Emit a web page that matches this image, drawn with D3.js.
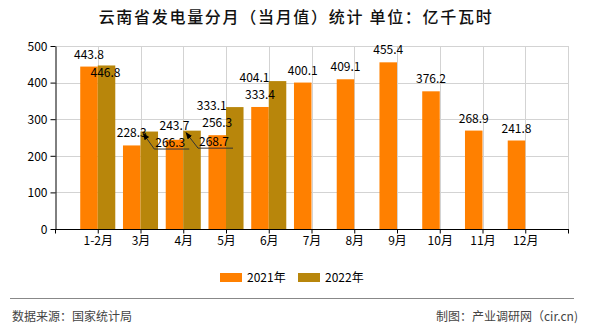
<!DOCTYPE html>
<html>
<head>
<meta charset="utf-8">
<script src="https://cdn.jsdelivr.net/npm/d3@7"></script>
<style>
  html, body { margin: 0; padding: 0; background: #fff; }
  svg { display: block; }
  text { font-family: "Noto Sans CJK SC", "Noto Sans", sans-serif; }
</style>
</head>
<body>
<svg id="chart" width="590" height="330"></svg>
<script>
// ---- data ----
const categories = ["1-2月", "3月", "4月", "5月", "6月", "7月", "8月", "9月", "10月", "11月", "12月"];
const values2021 = [443.8, 228.3, 243.7, 256.3, 333.4, 400.1, 409.1, 455.4, 376.2, 268.9, 241.8];
const values2022 = [446.8, 266.3, 268.7, 333.1, 404.1, null, null, null, null, null, null];
const seriesNames = ["2021年", "2022年"];
const yTickValues = [0, 100, 200, 300, 400, 500];
const titleText = "云南省发电量分月（当月值）统计 单位：亿千瓦时";
const sourceText = "数据来源：国家统计局";
const creditText = "制图：产业调研网（cir.cn)";

// ---- layout / style ----
const colors = ["#FF8000", "#B8860B"];
const plot = { left: 55, right: 568, top: 46, bottom: 229 };
// label placement tweaks (overlap avoidance, as in the reference)
const shift2021 = [[0, 0], [0, 0], [0, -2], [0, 0], [0, 0], [0, 0], [0, 0], [0, 0], [0, 0], [0, 0], [0, 0]];
const shift2022 = [[-1, 20], [21, 23], [22, 23], [-23, 11], [-23, 9]];
const leader2022 = [false, true, true, false, false];

const svg = d3.select("#chart");

const x = d3.scalePoint().domain(categories).range([plot.left, plot.right]).padding(1);
const y = d3.scaleLinear().domain([0, 500]).range([plot.bottom, plot.top]);
const bw = x.step() * 0.41;

// title
svg.append("text")
  .attr("x", 296).attr("y", 23)
  .attr("text-anchor", "middle")
  .attr("font-size", 16)
  .attr("letter-spacing", 1.7)
  .attr("font-weight", 500)
  .attr("fill", "#111")
  .text(titleText);

// grid
const grid = svg.append("g").attr("stroke", "#d3d3d3").attr("stroke-width", 1);
grid.selectAll("line.h").data(yTickValues.filter(v => v > 0)).join("line")
  .attr("x1", plot.left).attr("x2", plot.right)
  .attr("y1", d => Math.round(y(d)) + 0.5).attr("y2", d => Math.round(y(d)) + 0.5);
grid.selectAll("line.v").data(categories).join("line")
  .attr("x1", d => Math.round(x(d)) + 0.5).attr("x2", d => Math.round(x(d)) + 0.5)
  .attr("y1", plot.top).attr("y2", plot.bottom);
grid.append("line")
  .attr("x1", plot.right + 0.5).attr("x2", plot.right + 0.5)
  .attr("y1", plot.top).attr("y2", plot.bottom);

// bars
const bars = svg.append("g");
bars.selectAll("rect.s1").data(categories).join("rect")
  .attr("x", d => x(d) - bw)
  .attr("y", (d, i) => y(values2021[i]))
  .attr("width", bw)
  .attr("height", (d, i) => y(0) - y(values2021[i]))
  .attr("fill", colors[0]);
bars.selectAll("rect.s2").data(categories.filter((d, i) => values2022[i] != null)).join("rect")
  .attr("x", d => x(d))
  .attr("y", (d, i) => y(values2022[i]))
  .attr("width", bw)
  .attr("height", (d, i) => y(0) - y(values2022[i]))
  .attr("fill", colors[1]);

// axes
const yAxis = svg.append("g")
  .attr("transform", `translate(${plot.left + 0.5},0)`)
  .call(d3.axisLeft(y).tickValues(yTickValues).tickSize(5).tickSizeOuter(0).tickPadding(3));
yAxis.selectAll("text").attr("font-size", 12).attr("fill", "#000").attr("dy", "0.35em");
yAxis.selectAll("line, path").attr("stroke", "#000");

const xAxis = svg.append("g")
  .attr("transform", `translate(0,${plot.bottom + 0.5})`)
  .call(d3.axisBottom(x).tickSize(4).tickSizeOuter(0).tickPadding(3));
xAxis.select("path.domain").attr("d", `M${plot.left},0H${plot.right + 1}`);
xAxis.selectAll("line, path").attr("stroke", "#000");
xAxis.selectAll("text").attr("font-size", 12).attr("fill", "#000");
[plot.left + 0.5, plot.right + 0.5].forEach(px => {
  xAxis.append("line").attr("x1", px).attr("x2", px).attr("y1", 0).attr("y2", 4).attr("stroke", "#000");
});

// value labels
const labels = svg.append("g").attr("font-size", 12).attr("fill", "#000").attr("text-anchor", "middle");
categories.forEach((c, i) => {
  labels.append("text")
    .attr("x", x(c) - bw / 2 + shift2021[i][0])
    .attr("y", y(values2021[i]) - 8 + shift2021[i][1])
    .text(values2021[i].toFixed(1));
});

const defs = svg.append("defs");
defs.append("marker")
  .attr("id", "arrow").attr("viewBox", "0 0 10 10")
  .attr("refX", 9).attr("refY", 5)
  .attr("markerWidth", 7).attr("markerHeight", 7)
  .attr("orient", "auto-start-reverse")
  .append("path").attr("d", "M0,1L10,5L0,9Z").attr("fill", "#000");

categories.forEach((c, i) => {
  const v = values2022[i];
  if (v == null) return;
  const cx = x(c) + bw / 2;
  const top = y(v);
  const sh = shift2022[i];
  const lx = cx + sh[0];
  const ly = top - 8 + sh[1];
  const t = labels.append("text").attr("x", lx).attr("y", ly).text(v.toFixed(1));
  if (leader2022[i]) {
    const w = t.node().getComputedTextLength();
    const lineY = ly + 2.5;
    const left = lx - w / 2 - 1;
    svg.append("path")
      .attr("d", `M${lx + w / 2 + 4},${lineY}H${left}L${cx - 6},${top + 2}`)
      .attr("fill", "none")
      .attr("stroke", "#333")
      .attr("stroke-width", 1)
      .attr("marker-end", "url(#arrow)");
  }
});

// legend
const legend = svg.append("g");
const legendX = [220, 298];
seriesNames.forEach((n, i) => {
  legend.append("rect").attr("x", legendX[i]).attr("y", 273).attr("width", 22).attr("height", 9).attr("fill", colors[i]);
  legend.append("text").attr("x", legendX[i] + 27).attr("y", 281.5).attr("font-size", 12).attr("fill", "#000").text(n);
});

// footer
svg.append("line").attr("x1", 10).attr("x2", 574).attr("y1", 298.5).attr("y2", 298.5).attr("stroke", "#888").attr("stroke-width", 1);
svg.append("text").attr("x", 12).attr("y", 321).attr("font-size", 12).attr("fill", "#444").text(sourceText);
svg.append("text").attr("x", 578).attr("y", 321).attr("text-anchor", "end").attr("font-size", 12).attr("fill", "#444").text(creditText);
</script>
</body>
</html>
